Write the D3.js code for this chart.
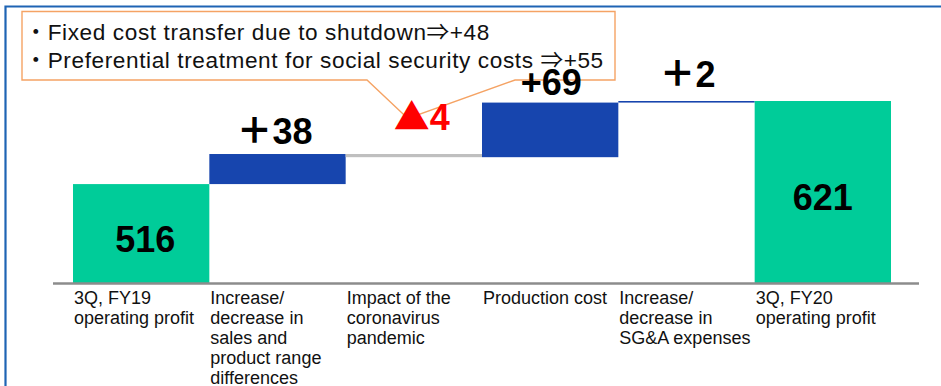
<!DOCTYPE html>
<html>
<head>
<meta charset="utf-8">
<script src="https://cdn.jsdelivr.net/npm/d3@7"></script>
<style>
  html, body { margin: 0; padding: 0; background: #fff; }
  svg { display: block; }
</style>
</head>
<body>
<div id="chart"></div>
<script>
// Operating profit bridge, 3Q FY19 -> 3Q FY20 (waterfall)
const categories = [
  "3Q, FY19\noperating profit",
  "Increase/\ndecrease in\nsales and\nproduct range\ndifferences",
  "Impact of the\ncoronavirus\npandemic",
  "Production cost",
  "Increase/\ndecrease in\nSG&A expenses",
  "3Q, FY20\noperating profit"
];
const kinds = ["total", "delta", "delta", "delta", "delta", "total"];
const values = [516, 38, -4, 69, 2, 621];
const valueLabels = ["516", "＋38", "▲4", "+69", "＋2", "621"];
const axisMin = 391;
const noteLines = [
  "・Fixed cost transfer due to shutdown⇒+48",
  "・Preferential treatment for social security costs ⇒+55"
];

// layout
const W = 941, H = 386;
const colors = { total: "#00CC99", up: "#1745AE", down: "#BFBFBF" };
const labelNudge = [[4, 0], [-3, -10], [8, -24], [1, -8], [1, -14], [0, 0]];

// running totals -> bar extents
let run = 0;
const bars = values.map((v, i) => {
  let y0, y1;
  if (kinds[i] === "total") { y0 = axisMin; y1 = v; run = v; }
  else { y0 = run; y1 = run + v; run = y1; }
  return { i, v, kind: kinds[i], lo: Math.min(y0, y1), hi: Math.max(y0, y1) };
});

const svg = d3.select("#chart").append("svg")
  .attr("width", W).attr("height", H);

svg.append("rect").attr("width", W).attr("height", H).attr("fill", "#fff");

// slide frame
svg.append("path")
  .attr("d", `M5.5,${H} V6.5 H${W}`)
  .attr("fill", "none").attr("stroke", "#1F64B4").attr("stroke-width", 2.2);

const x = d3.scaleBand().domain(d3.range(categories.length)).range([73, 891]).padding(0);
const y = d3.scaleLinear().domain([axisMin, 621]).range([283, 101]);

// bars
svg.append("g").selectAll("rect").data(bars).join("rect")
  .attr("x", d => x(d.i))
  .attr("width", x.bandwidth())
  .attr("y", d => y(d.hi))
  .attr("height", d => Math.max(1.5, y(d.lo) - y(d.hi)))
  .attr("fill", d => d.kind === "total" ? colors.total : (d.v >= 0 ? colors.up : colors.down));

// baseline
svg.append("line")
  .attr("x1", 53).attr("x2", 919)
  .attr("y1", y(axisMin) + 0.5).attr("y2", y(axisMin) + 0.5)
  .attr("stroke", "#8C8C8C").attr("stroke-width", 2.5);

// category labels
const catG = svg.append("g")
  .attr("font-family", "'Liberation Sans', Arial, sans-serif")
  .attr("font-size", 18).attr("fill", "#111");
categories.forEach((c, i) => {
  const t = catG.append("text").attr("x", x(i) + 1).attr("y", 304);
  c.split("\n").forEach((ln, k) => {
    t.append("tspan").attr("x", x(i) + 1).attr("dy", k === 0 ? 0 : 20).text(ln);
  });
});

// callout note with pointer to the coronavirus bar
const cx = x(2) + x.bandwidth() / 2;
svg.append("path")
  .attr("d", `M22,11.5 H615 V80 H515 L${cx - 6},118.5 L367,80 H22 Z`)
  .attr("fill", "#fff").attr("stroke", "#F5A364").attr("stroke-width", 1.4);

const noteG = svg.append("g")
  .attr("font-family", "'Liberation Sans', Arial, 'Noto Sans CJK JP', sans-serif")
  .attr("font-size", 22.6).attr("fill", "#111");
noteLines.forEach((ln, k) => {
  noteG.append("text").attr("x", 24.5).attr("y", 40 + k * 28.3)
    .attr("letter-spacing", 0.6).text(ln);
});

// value labels
const valG = svg.append("g")
  .attr("font-family", "'Liberation Sans', Arial, sans-serif")
  .attr("font-weight", "bold").attr("font-size", 36)
  .attr("text-anchor", "middle");
bars.forEach(d => {
  const lab = valueLabels[d.i];
  const [dx, dy] = labelNudge[d.i];
  const bx = x(d.i) + x.bandwidth() / 2 + dx;
  let by;
  if (d.kind === "total") by = (y(d.hi) + y(d.lo)) / 2 + 18;
  else by = y(d.hi) + dy;
  const t = valG.append("text").attr("x", bx).attr("y", by)
    .attr("fill", d.v < 0 ? "#FF0000" : "#000");
  const m = lab.match(/^([＋▲])(.*)$/);
  if (m) {
    t.append("tspan").attr("font-family", "'Noto Sans CJK JP', sans-serif")
      .attr("font-weight", 900).text(m[1]);
    t.append("tspan").text(m[2]);
  } else {
    t.text(lab);
  }
});
</script>
</body>
</html>
